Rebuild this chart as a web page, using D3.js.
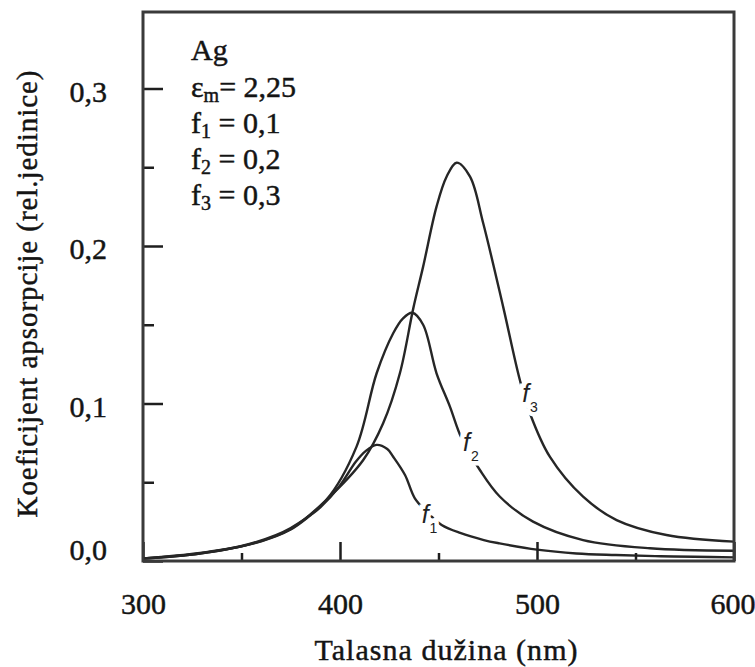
<!DOCTYPE html>
<html>
<head>
<meta charset="utf-8">
<script src="https://cdn.jsdelivr.net/npm/d3@7"></script>
<style>
  html, body { margin: 0; padding: 0; background: #fff; }
  svg { display: block; }
  svg text { font-family: "Liberation Serif", "Times New Roman", Times, "DejaVu Serif", serif; fill: #141414; stroke: #141414; stroke-width: 0.45px; }
  svg text.sans { font-family: "Liberation Sans", Arial, "DejaVu Sans", sans-serif; fill: #222; stroke: #fff; stroke-width: 9px; paint-order: stroke; }
</style>
</head>
<body>
<svg id="chart" width="755" height="667"></svg>
<script>
// ---- data ----
const wavelengthF1 = [300, 320, 340, 360, 375, 385, 390, 400, 408, 413, 418.5, 424, 427, 433, 438, 444.6, 451.6, 461, 473, 481, 500, 520, 540, 560, 580, 600];
const absorptionF1 = [0.0016, 0.0035, 0.0068, 0.0125, 0.020, 0.029, 0.034, 0.048, 0.063, 0.0698, 0.0737, 0.0711, 0.0662, 0.0546, 0.0398, 0.0305, 0.0229, 0.0178, 0.0133, 0.0112, 0.0072, 0.0048, 0.0038, 0.0031, 0.0027, 0.0023];

const wavelengthF2 = [300, 329, 354, 375, 393, 408.4, 418.6, 427, 432, 436.7, 442.2, 449, 455.8, 461.7, 471, 481.2, 498, 523.4, 557.3, 600];
const absorptionF2 = [0.0016, 0.0048, 0.0108, 0.021, 0.0387, 0.0726, 0.1192, 0.1446, 0.1541, 0.1576, 0.150, 0.1192, 0.098, 0.0779, 0.0578, 0.0408, 0.025, 0.0133, 0.0081, 0.0065];

const wavelengthF3 = [300, 329, 354, 375, 393, 411.8, 421.9, 430.4, 437.2, 442.2, 449, 454.1, 459.2, 466, 472.7, 482.8, 491.3, 496.4, 506.5, 523.4, 540.4, 565.7, 600];
const absorptionF3 = [0.0016, 0.0051, 0.0105, 0.0203, 0.0387, 0.0641, 0.0874, 0.1192, 0.1604, 0.1869, 0.225, 0.244, 0.2529, 0.244, 0.2144, 0.1615, 0.1149, 0.0938, 0.0662, 0.0408, 0.026, 0.0165, 0.0123];

const xMajorTicks = [300, 400, 500, 600];
const xMinorTicks = [350, 450, 550];
const yMajorTicks = [0, 0.1, 0.2, 0.3];
const yMinorTicks = [0.05, 0.15, 0.25];
const yTickLabels = ["0,0", "0,1", "0,2", "0,3"];

const legendLines = [
  { main: "Ag", sub: "", rest: "" },
  { main: "ε", sub: "m", rest: "= 2,25" },
  { main: "f", sub: "1", rest: " = 0,1" },
  { main: "f", sub: "2", rest: " = 0,2" },
  { main: "f", sub: "3", rest: " = 0,3" }
];
const curveLabels = ["1", "2", "3"];
const xTitle = "Talasna dužina (nm)";
const yTitle = "Koeficijent apsorpcije (rel.jedinice)";

// ---- layout ----
const mLeft = 143, mRight = 734, mTop = 12, mBottom = 561;
const svg = d3.select("#chart");

const x = d3.scaleLinear().domain([300, 600]).range([mLeft, mRight]);
const y = d3.scaleLinear().domain([0, (mBottom - mTop) / 1575]).range([mBottom, mTop]);

// curves
const series = [
  { xs: wavelengthF1, ys: absorptionF1 },
  { xs: wavelengthF2, ys: absorptionF2 },
  { xs: wavelengthF3, ys: absorptionF3 }
];
const line = d3.line().x(d => x(d[0])).y(d => y(d[1])).curve(d3.curveCatmullRom.alpha(0.5));
svg.append("g").selectAll("path").data(series).join("path")
  .attr("d", s => line(s.xs.map((v, i) => [v, s.ys[i]])))
  .attr("fill", "none").attr("stroke", "#262626").attr("stroke-width", 2.4);

// curve labels (italic f with subscript), placed in gaps of curves
const labelPos = [[444.5, 0.0295], [465.5, 0.075], [495.5, 0.106]];
const cl = svg.append("g").selectAll("text").data(curveLabels).join("text")
  .attr("class", "sans")
  .attr("x", (d, i) => x(labelPos[i][0]) - 6)
  .attr("y", (d, i) => y(labelPos[i][1]) + 8);
cl.append("tspan").text("f").style("font-style", "italic").style("font-size", "25px");
cl.append("tspan").text(d => d).attr("dy", 10).attr("dx", 1).style("font-size", "14px");

// axes: inner ticks
const tickStroke = "#1e1e1e";
const gy = svg.append("g").attr("transform", `translate(${mLeft},0)`)
  .call(d3.axisLeft(y).tickValues(yMajorTicks).tickSize(-20).tickPadding(36)
    .tickFormat((d, i) => yTickLabels[i]));
gy.attr("font-family", null).attr("font-size", null);
gy.select(".domain").remove();
gy.selectAll("line").attr("stroke", tickStroke).attr("stroke-width", 2.5);
gy.selectAll("text").style("font-size", "30px")
  .attr("fill", "#141414").attr("dy", (d) => d === 0 ? "-0.05em" : "0.42em");

const gym = svg.append("g").attr("transform", `translate(${mLeft},0)`)
  .call(d3.axisLeft(y).tickValues(yMinorTicks).tickSize(-11).tickFormat(""));
gym.select(".domain").remove();
gym.selectAll("line").attr("stroke", tickStroke).attr("stroke-width", 2.5);

const gx = svg.append("g").attr("transform", `translate(0,${mBottom})`)
  .call(d3.axisBottom(x).tickValues(xMajorTicks).tickSize(-19).tickPadding(32));
gx.attr("font-family", null).attr("font-size", null);
gx.select(".domain").remove();
gx.selectAll("line").attr("stroke", tickStroke).attr("stroke-width", 2.5);
gx.selectAll("text").style("font-size", "30px").attr("fill", "#141414")
  .attr("text-anchor", d => d === 600 ? "end" : "middle")
  .attr("x", d => d === 600 ? 21 : 0);

const gxm = svg.append("g").attr("transform", `translate(0,${mBottom})`)
  .call(d3.axisBottom(x).tickValues(xMinorTicks).tickSize(-8).tickFormat(""));
gxm.select(".domain").remove();
gxm.selectAll("line").attr("stroke", tickStroke).attr("stroke-width", 2.5);

// frame
svg.append("rect").attr("x", mLeft).attr("y", mTop)
  .attr("width", mRight - mLeft).attr("height", mBottom - mTop)
  .attr("fill", "none").attr("stroke", "#3a3a3a").attr("stroke-width", 3);

// legend block
const lg = svg.append("g");
const legendBase = [60, 97, 133, 169, 205];
legendLines.forEach((l, i) => {
  const t = lg.append("text").attr("x", 191).attr("y", legendBase[i]).style("font-size", "30px");
  t.append("tspan").text(l.main);
  if (l.sub) {
    t.append("tspan").text(l.sub).attr("dy", 5).style("font-size", "20px");
    t.append("tspan").text(l.rest).attr("dy", -5);
  }
});

// axis titles
svg.append("text").attr("x", 446).attr("y", 660).attr("text-anchor", "middle")
  .attr("textLength", 263).attr("lengthAdjust", "spacing")
  .style("font-size", "30px").text(xTitle);
svg.append("text").attr("transform", "translate(37,294) rotate(-90)").attr("text-anchor", "middle")
  .attr("textLength", 447).attr("lengthAdjust", "spacing")
  .style("font-size", "29px").text(yTitle);
</script>
</body>
</html>
